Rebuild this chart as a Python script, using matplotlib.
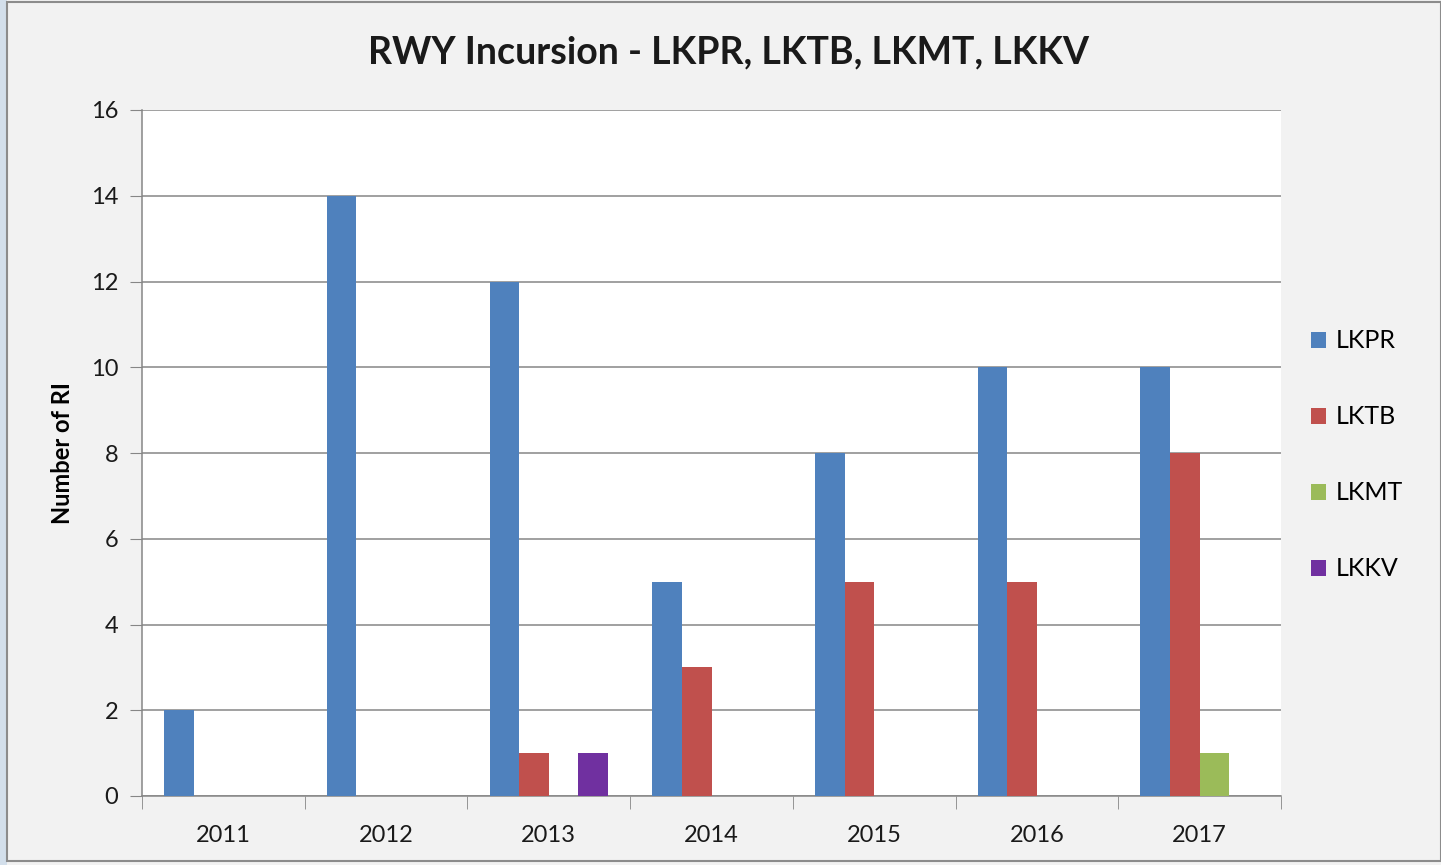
import matplotlib.pyplot as plt
import numpy as np
from matplotlib.patches import Rectangle

# data
years = ["2011", "2012", "2013", "2014", "2015", "2016", "2017"]
lkpr = [2, 14, 12, 5, 8, 10, 10]
lktb = [0, 0, 1, 3, 5, 5, 8]
lkmt = [0, 0, 0, 0, 0, 0, 1]
lkkv = [0, 0, 1, 0, 0, 0, 0]
series_names = ["LKPR", "LKTB", "LKMT", "LKKV"]
colors = ["#4F81BD", "#C0504D", "#9BBB59", "#7030A0"]

plt.rcParams['font.family'] = ['Lato', 'DejaVu Sans']

fig = plt.figure(figsize=(14.41, 8.65), dpi=100)
fig.patch.set_facecolor("#f2f2f2")

# outer frame like the spreadsheet chart area
fig.patches.append(Rectangle((0, 0), 7 / 1441, 1, transform=fig.transFigure,
                             facecolor="#d3dfeb", edgecolor="none", zorder=0))
fig.patches.append(Rectangle((7 / 1441, 4 / 865), 1 - 7 / 1441, 1 - 6 / 865,
                             transform=fig.transFigure, facecolor="none",
                             edgecolor="#8c8c8c", linewidth=1.5, zorder=1))

ax = fig.add_axes([142 / 1441, 1 - 796 / 865, (1281 - 142) / 1441, (796 - 110) / 865])
ax.set_facecolor("white")

x = np.arange(len(years))
w = 1 / 5.5
all_series = [lkpr, lktb, lkmt, lkkv]
for i in range(4):
    ax.bar(x + (i - 1.5) * w, all_series[i], width=w, color=colors[i],
           label=series_names[i], zorder=3)

ax.set_xlim(-0.5, len(years) - 0.5)
ax.set_ylim(0, 16)
ax.set_yticks(range(0, 17, 2))
ax.set_xticks(x)
ax.set_xticklabels(years)
ax.set_xticks(np.arange(-0.5, len(years)), minor=True)
ax.tick_params(axis='x', which='major', length=0, pad=21, labelsize=17, colors="#1a1a1a")
ax.tick_params(axis='x', which='minor', length=9, color="#868686", direction='out')
ax.tick_params(axis='y', length=9, color="#868686", pad=8, labelsize=17, labelcolor="#1a1a1a")

ax.grid(axis='y', color="#868686", linewidth=1.1, zorder=0)
ax.set_axisbelow(True)
for s in ["top", "right"]:
    ax.spines[s].set_visible(False)
for s in ["left", "bottom"]:
    ax.spines[s].set_color("#868686")
    ax.spines[s].set_linewidth(1.1)

ax.set_ylabel("Number of RI", fontsize=17, fontweight='bold', labelpad=12)
fig.text(728 / 1441, 1 - 52 / 865, "RWY Incursion - LKPR, LKTB, LKMT, LKKV",
         ha='center', va='center', fontsize=27, fontweight='bold', color="#1a1a1a")

fig.legend(loc='center left', bbox_to_anchor=(1288 / 1441, 1 - 455 / 865),
           frameon=False, fontsize=18, handlelength=0.6, handleheight=0.6,
           handletextpad=0.4, labelspacing=2.12)

plt.savefig("out.png", dpi=100, facecolor=fig.get_facecolor())
